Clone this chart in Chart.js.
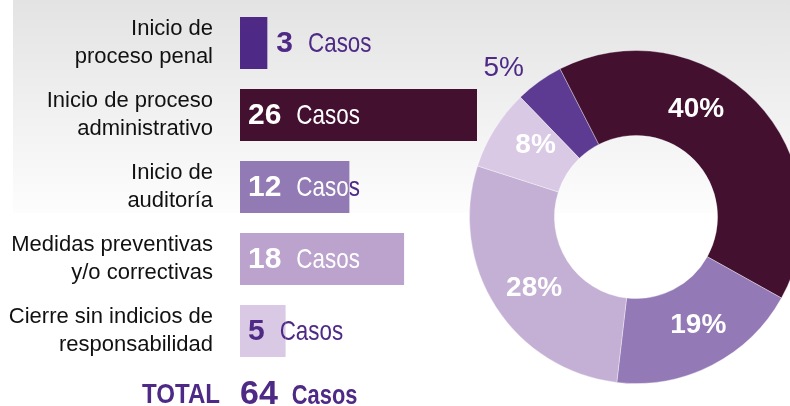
<!DOCTYPE html>
<html>
<head>
<meta charset="utf-8">
<script src="https://cdn.jsdelivr.net/npm/chart.js@4.4.1/dist/chart.umd.min.js"></script>
<style>
    html, body { margin: 0; padding: 0; width: 790px; height: 406px; overflow: hidden; background: #ffffff; }
    #fondo { position: absolute; left: 13px; top: 0; width: 777px; height: 213px;
             background: linear-gradient(#e3e3e3, #fdfdfd); }
    #barWrap { position: absolute; left: 0; top: 0; width: 490px; height: 406px; }
    #donutWrap { position: absolute; left: 436px; top: 17px; width: 400px; height: 400px; }
</style>
</head>
<body>
<div id="fondo"></div>
<div id="barWrap"><canvas id="barCanvas"></canvas></div>
<div id="donutWrap"><canvas id="donutCanvas"></canvas></div>
<script>
// datos
var categories = [
    ["Inicio de", "proceso penal"],
    ["Inicio de proceso", "administrativo"],
    ["Inicio de", "auditoría"],
    ["Medidas preventivas", "y/o correctivas"],
    ["Cierre sin indicios de", "responsabilidad"]
];
var cases = [3, 26, 12, 18, 5];
var pctLabels = ["5%", "40%", "19%", "28%", "8%"];
var unitLabel = "Casos";
var totalLabel = "TOTAL";

var barColors = ["#4e2a86", "#431030", "#927ab5", "#bba3ce", "#d9c9e4"];
var sliceColors = ["#5d3b92", "#431030", "#9379b5", "#c4afd5", "#d9c9e4"];
var barTextColors = ["#4e2a86", "#ffffff", "#ffffff", "#ffffff", "#4e2a86"];
var purple = "#4e2a86";
var font = "'Liberation Sans', Arial, sans-serif";

// texto comprimido a lo ancho (la fuente original es tipo "narrow")
function squeezeText(ctx, text, x, y, sx) {
    ctx.save();
    ctx.translate(x, y);
    ctx.scale(sx, 1);
    ctx.fillText(text, 0, 0);
    var w = ctx.measureText(text).width * sx;
    ctx.restore();
    return w;
}

function drawBarText(ctx, i, x, y) {
    var num = String(cases[i]);
    ctx.font = "bold 30px " + font;
    ctx.fillText(num, x, y);
    var w = ctx.measureText(num).width;
    ctx.font = "28px " + font;
    squeezeText(ctx, unitLabel, x + w + 15, y, 0.8);
}

var barLabels = {
    id: "barLabels",
    afterDatasetsDraw: function(chart) {
        var ctx = chart.ctx;
        var meta = chart.getDatasetMeta(0);
        var left = chart.scales.x.getPixelForValue(0);
        ctx.save();
        ctx.textBaseline = "middle";
        meta.data.forEach(function(bar, i) {
            var x = (bar.x - left) < 40 ? bar.x + 9 : left + 8;
            var top = bar.y - bar.height / 2;
            // parte del texto sobre la barra
            ctx.save();
            ctx.beginPath();
            ctx.rect(left, top, bar.x - left, bar.height);
            ctx.clip();
            ctx.fillStyle = barTextColors[i];
            drawBarText(ctx, i, x, bar.y + 1);
            ctx.restore();
            // parte que sale de la barra
            ctx.save();
            ctx.beginPath();
            ctx.rect(bar.x, top, chart.width - bar.x, bar.height);
            ctx.clip();
            ctx.fillStyle = purple;
            drawBarText(ctx, i, x, bar.y + 1);
            ctx.restore();
        });

        // fila del total
        var total = cases.reduce(function(a, b) { return a + b; }, 0);
        ctx.textBaseline = "alphabetic";
        ctx.fillStyle = purple;
        ctx.font = "bold 28px " + font;
        ctx.textAlign = "right";
        squeezeText(ctx, totalLabel, 220, 403, 0.86);
        ctx.textAlign = "left";
        ctx.font = "bold 34px " + font;
        ctx.fillText(String(total), left, 404);
        var tw = ctx.measureText(String(total)).width;
        ctx.font = "bold 27px " + font;
        squeezeText(ctx, unitLabel, left + tw + 14, 404, 0.81);
        ctx.restore();
    }
};

var sliceLabels = {
    id: "sliceLabels",
    afterDatasetsDraw: function(chart, args, opts) {
        var ctx = chart.ctx;
        var meta = chart.getDatasetMeta(0);
        ctx.save();
        ctx.textAlign = "center";
        ctx.textBaseline = "middle";
        meta.data.forEach(function(arc, i) {
            var outside = opts.outside[i];
            var mid = (arc.startAngle + arc.endAngle) / 2 + opts.nudge[i] * Math.PI / 180;
            var r = outside ? arc.outerRadius + 33 : (arc.innerRadius + arc.outerRadius) / 2;
            var x = arc.x + Math.cos(mid) * r;
            var y = arc.y + Math.sin(mid) * r;
            ctx.fillStyle = outside ? purple : "#ffffff";
            ctx.font = (outside ? "" : "bold ") + "28px " + font;
            ctx.fillText(pctLabels[i], x, y + 1);
        });
        ctx.restore();
    }
};

function createBarChart() {
    var ctx = document.getElementById("barCanvas").getContext("2d");
    window.barChart = new Chart(ctx, {
        type: "bar",
        data: {
            labels: categories,
            datasets: [{
                data: cases,
                backgroundColor: barColors,
                borderWidth: 0,
                barPercentage: 1,
                categoryPercentage: 0.72
            }]
        },
        options: {
            indexAxis: "y",
            responsive: true,
            maintainAspectRatio: false,
            animation: false,
            layout: { padding: { top: 7, bottom: 39, right: 13 } },
            plugins: {
                legend: { display: false },
                tooltip: { enabled: false }
            },
            scales: {
                x: {
                    display: false,
                    min: 0,
                    max: 26
                },
                y: {
                    afterFit: function(scale) {
                        scale.width = 240;
                        scale.paddingTop = 0;
                        scale.paddingBottom = 0;
                    },
                    grid: { display: false, drawTicks: false },
                    border: { display: false },
                    ticks: {
                        padding: 27,
                        color: "#111111",
                        font: { size: 22, family: font, lineHeight: 1.27 }
                    }
                }
            }
        },
        plugins: [barLabels]
    });
}

function createDonutChart() {
    var ctx = document.getElementById("donutCanvas").getContext("2d");
    window.donutChart = new Chart(ctx, {
        type: "doughnut",
        data: {
            labels: categories.map(function(c) { return c.join(" "); }),
            datasets: [{
                data: cases,
                backgroundColor: sliceColors,
                borderColor: "rgba(255,255,255,0.35)",
                borderWidth: 1
            }]
        },
        options: {
            responsive: true,
            maintainAspectRatio: false,
            animation: false,
            rotation: -44,
            cutout: "49%",
            layout: { padding: 33 },
            plugins: {
                legend: { display: false },
                tooltip: { enabled: false },
                sliceLabels: {
                    outside: [true, false, false, false, false],
                    nudge: [-6, -17, -3, -2, 4]
                }
            }
        },
        plugins: [sliceLabels]
    });
}

document.addEventListener("DOMContentLoaded", function() {
    createBarChart();
    createDonutChart();
});
</script>
</body>
</html>
